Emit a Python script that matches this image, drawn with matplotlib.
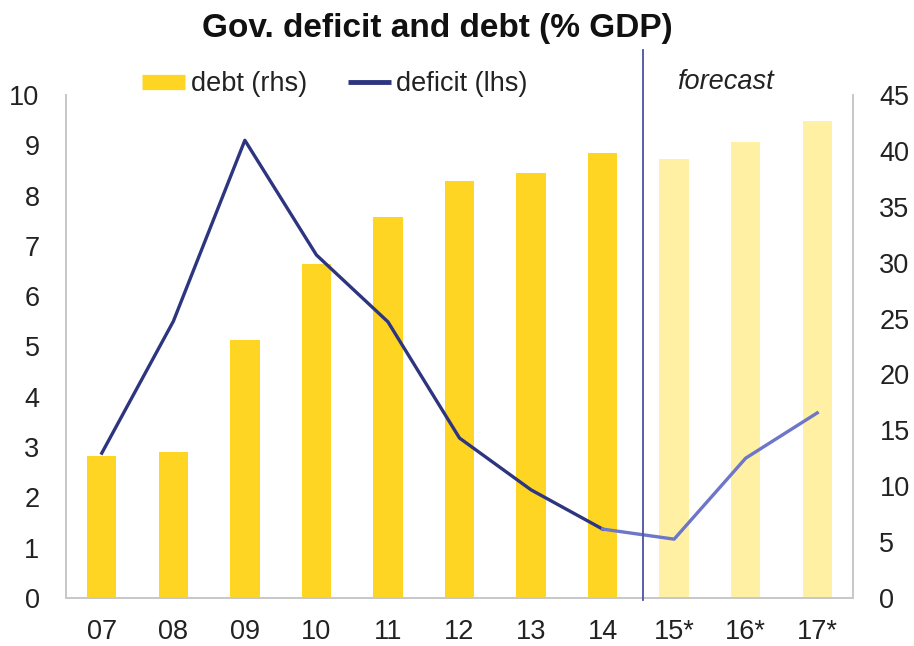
import matplotlib
matplotlib.use("Agg")
import matplotlib.pyplot as plt
from matplotlib.lines import Line2D
import numpy as np

plt.rcParams['font.family'] = ['Liberation Sans', 'DejaVu Sans']

# Data
years = ["07", "08", "09", "10", "11", "12", "13", "14", "15*", "16*", "17*"]
debt = [12.7, 13.1, 23.1, 29.9, 34.1, 37.3, 38.0, 39.8, 39.3, 40.8, 42.7]   # rhs, % GDP
deficit = [2.88, 5.5, 9.1, 6.82, 5.49, 3.18, 2.15, 1.37, 1.17, 2.78, 3.68]  # lhs, % GDP
n_actual = 8          # 07..14 are outturns, the rest forecasts
forecast_split = 7.57  # position of the forecast divider

gold = "#FFD523"
gold_light = "#FFF0A3"
navy = "#2E3580"
navy_light = "#6D76C8"
spine_col = "#C8C8C8"

fig = plt.figure(figsize=(9.14, 6.46), dpi=100)
ax = fig.add_axes([66/914, 1-598/646, (853-66)/914, (598-95)/646])
ax2 = ax.twinx()

x = np.arange(len(years))

# debt bars on the right-hand axis
bar_cols = [gold if i < n_actual else gold_light for i in range(len(years))]
ax2.bar(x, debt, width=0.41, color=bar_cols, zorder=1)

# deficit line on the left-hand axis (drawn over the bars)
ax.set_zorder(ax2.get_zorder() + 1)
ax.patch.set_visible(False)
ax.plot(x[:n_actual], deficit[:n_actual], color=navy, lw=2.4, zorder=3)
ax.plot(x[n_actual-1:], deficit[n_actual-1:], color=navy_light, lw=2.4, zorder=3)

# forecast divider
ax.plot([forecast_split, forecast_split], [-0.04, 10.9], color="#4A52A0",
        lw=1.3, clip_on=False, zorder=4)

ax.set_xlim(-0.5, len(years) - 0.5)
ax.set_ylim(0, 10)
ax2.set_ylim(0, 45)
ax.set_yticks(range(0, 11))
ax2.set_yticks(range(0, 46, 5))
ax.set_xticks(x)
ax.set_xticklabels(years)

for a in (ax, ax2):
    a.spines['top'].set_visible(False)
    for s in ('left', 'right', 'bottom'):
        a.spines[s].set_color(spine_col)
        a.spines[s].set_linewidth(1.3)
    a.tick_params(length=0, labelsize=19.5, colors="#222222")
ax.tick_params(axis='y', pad=19)
ax.tick_params(axis='x', pad=15)
ax2.tick_params(axis='y', pad=19)

fig.text(0.478, 1-29/646, "Gov. deficit and debt (% GDP)", ha='center', va='center',
         fontsize=24, fontweight='bold', color="#111111")

handles = [Line2D([], [], color=gold, lw=11, solid_capstyle='butt'),
           Line2D([], [], color=navy, lw=3.5, solid_capstyle='butt')]
fig.legend(handles, ["debt (rhs)", "deficit (lhs)"], loc='center left',
           bbox_to_anchor=(142/914, 1-84/646), ncol=2, frameon=False,
           fontsize=19.5, handlelength=1.6, handletextpad=0.2,
           columnspacing=1.5, borderpad=0, borderaxespad=0, labelcolor="#222222")

fig.text(725/914, 1-82/646, "forecast", ha='center', va='center',
         fontsize=19.5, fontstyle='italic', color="#222222")

fig.savefig("out.png", dpi=100)
